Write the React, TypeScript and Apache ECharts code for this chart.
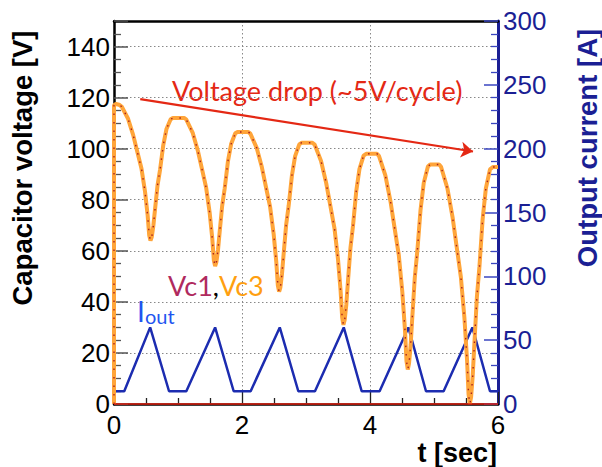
import React, { useEffect, useRef } from "react";
import * as echarts from "echarts";

// Capacitor voltage Vc3 [V] vs time [s]
const vc3: [number, number][] = [
  [0, 0], [0, 117], [0.03, 117.5], [0.08, 117.2], [0.12, 116.5], [0.22, 111.7], [0.3, 105.3], [0.365, 98.7],
  [0.43, 92.1], [0.485, 83.1], [0.526, 73.8], [0.55, 66.1], [0.57, 64], [0.59, 65.4], [0.615, 69.8],
  [0.64, 76], [0.68, 85.6], [0.72, 91.8], [0.77, 101.4], [0.82, 107.7], [0.885, 111.5], [0.92, 112],
  [1.1, 112], [1.13, 111.4], [1.23, 106.2], [1.31, 99.2], [1.375, 92], [1.44, 84.7], [1.495, 74.9],
  [1.536, 64.7], [1.56, 56.3], [1.58, 54], [1.6, 55.6], [1.625, 60.3], [1.65, 67.1], [1.69, 77.6],
  [1.73, 84.5], [1.78, 95], [1.83, 101.8], [1.895, 106], [1.93, 106.5], [2.1, 106.5], [2.13, 105.9],
  [2.23, 100.3], [2.31, 92.8], [2.375, 84.9], [2.44, 77.1], [2.495, 66.5], [2.536, 55.6], [2.56, 46.5],
  [2.58, 44], [2.6, 45.7], [2.625, 51], [2.65, 58.6], [2.69, 70.2], [2.73, 77.8], [2.78, 89.5],
  [2.83, 97.1], [2.895, 101.7], [2.93, 102.3], [3.1, 102.3], [3.135, 101.6], [3.235, 95.2], [3.315, 86.6],
  [3.38, 77.7], [3.445, 68.8], [3.5, 56.7], [3.541, 44.2], [3.565, 33.9], [3.585, 31], [3.605, 33],
  [3.63, 39], [3.655, 47.8], [3.695, 61.2], [3.735, 69.9], [3.785, 83.3], [3.835, 92], [3.9, 97.3],
  [3.94, 98], [4.11, 98], [4.14, 97.2], [4.24, 89.5], [4.32, 79.4], [4.385, 68.8], [4.45, 58.3],
  [4.505, 43.9], [4.546, 29.1], [4.57, 16.9], [4.59, 13.5], [4.61, 15.9], [4.635, 23.1], [4.66, 33.6],
  [4.7, 49.6], [4.74, 60.1], [4.79, 76.1], [4.84, 86.6], [4.905, 93], [4.94, 93.8], [5.08, 93.8],
  [5.11, 92.9], [5.21, 84.4], [5.29, 73.2], [5.355, 61.4], [5.42, 49.7], [5.475, 33.8], [5.516, 17.4],
  [5.54, 3.8], [5.56, 0], [5.58, 2.8], [5.605, 11.1], [5.63, 23.2], [5.67, 41.8], [5.71, 53.8],
  [5.76, 72.4], [5.81, 84.4], [5.875, 91.9], [5.92, 92.8], [6, 92.8],
];
// Vc1 lies on top of Vc3
const vc1: [number, number][] = vc3;

// Output current [A] vs time [s]
const iout: [number, number][] = [
  [0, 0], [0, 10], [0.16, 10], [0.565, 60], [0.86, 10], [1.13, 10], [1.58, 60], [1.87, 10],
  [2.135, 10], [2.59, 60], [2.88, 10], [3.14, 10], [3.59, 60], [3.87, 10], [4.15, 10], [4.6, 60],
  [4.875, 10], [5.15, 10], [5.6, 60], [5.875, 10], [6, 10],
];

// Voltage-drop arrow end points [t, V]
const arrowStart: [number, number] = [0.41, 119.4];
const arrowEnd: [number, number] = [5.61, 98.9];

const FONT = "'Liberation Sans', Arial, Helvetica, sans-serif";
const GILL = "Lato, 'Open Sans', sans-serif";
const NAVY = "#1b1f94";

export default function App() {
  const ref = useRef<HTMLDivElement>(null);
  useEffect(() => {
    if (!ref.current) return;
    const chart = echarts.init(ref.current, null, { renderer: "svg" });
    const grid = { left: 114, right: 104, top: 21, bottom: 63 };
    chart.setOption({
      animation: false,
      backgroundColor: "#ffffff",
      grid,
      xAxis: [
        {
          type: "value", min: 0, max: 6, interval: 2, position: "bottom",
          axisLine: { show: true, onZero: false, lineStyle: { color: "#000", width: 2.5 } },
          axisTick: { show: true, inside: true, length: 12, lineStyle: { color: "#222", width: 1.3 } },
          minorTick: { show: true, splitNumber: 4, length: 6, lineStyle: { color: "#222", width: 1.3 } },
          splitLine: { show: true, lineStyle: { color: "#888", width: 1, type: [1.5, 2.5] } },
          axisLabel: { fontSize: 26, color: "#000", fontFamily: FONT, margin: 8 },
        },
        {
          type: "value", min: 0, max: 6, position: "top",
          axisLine: { show: true, onZero: false, lineStyle: { color: "#000", width: 2.5 } },
          axisTick: { show: false }, minorTick: { show: false },
          axisLabel: { show: false }, splitLine: { show: false },
        },
      ],
      yAxis: [
        {
          type: "value", min: 0, max: 150, interval: 20, position: "left",
          axisLine: { show: true, onZero: false, lineStyle: { color: "#000", width: 2.5 } },
          axisTick: { show: true, inside: true, length: 14, lineStyle: { color: "#555", width: 1.5 } },
          minorTick: { show: true, splitNumber: 4, length: 7, lineStyle: { color: "#555", width: 1.3 } },
          splitLine: { show: true, lineStyle: { color: "#888", width: 1, type: [1.5, 2.5] } },
          axisLabel: {
            fontSize: 26, color: "#000", fontFamily: FONT, margin: 4,
            formatter: (v: number) => (v === 150 ? "" : String(v)),
          },
        },
        {
          type: "value", min: 0, max: 300, interval: 50, position: "right",
          axisLine: { show: true, onZero: false, lineStyle: { color: NAVY, width: 3 } },
          axisTick: { show: true, inside: true, length: 14, lineStyle: { color: "#3a46c0", width: 1.5 } },
          minorTick: { show: true, splitNumber: 5, length: 7, lineStyle: { color: "#3a46c0", width: 1.3 } },
          splitLine: { show: false },
          axisLabel: { fontSize: 26, color: NAVY, fontFamily: FONT, margin: 5 },
        },
      ],
      series: [
        {
          name: "Iout", type: "line", xAxisIndex: 0, yAxisIndex: 1, data: iout, showSymbol: false, symbol: "none",
          lineStyle: { color: "#1c2cb0", width: 2.5 }, z: 2,
        },
        {
          name: "Vc3", type: "line", xAxisIndex: 0, yAxisIndex: 0, data: vc3, showSymbol: false, symbol: "none",
          lineStyle: { color: "#ffa53a", width: 4 }, z: 3,
        },
        {
          name: "Vc1", type: "line", xAxisIndex: 0, yAxisIndex: 0, data: vc1, showSymbol: false, symbol: "none",
          lineStyle: { color: "#a82020", width: 1.4, type: [1.5, 7] }, z: 4,
          markLine: {
            silent: true, animation: false, symbol: ["none", "none"], label: { show: false },
            lineStyle: { color: "#e02010", width: 1.5, type: "solid" },
            data: [{ yAxis: 0 }],
          },
        },
        {
          name: "arrow", type: "line", xAxisIndex: 0, yAxisIndex: 0, data: [], z: 5,
          markLine: {
            silent: true, animation: false, symbol: ["none", "arrow"], symbolSize: 12,
            label: { show: false },
            lineStyle: { color: "#e42814", width: 2.2, type: "solid" },
            data: [[{ coord: arrowStart }, { coord: arrowEnd }]],
          },
        },
      ],
      graphic: [
        {
          type: "text", x: 22, y: 168, rotation: Math.PI / 2,
          style: {
            text: "Capacitor voltage [V]", fill: "#000", font: `bold 27.5px ${FONT}`,
            align: "center", verticalAlign: "middle",
          },
        },
        {
          type: "text", x: 587, y: 148, rotation: Math.PI / 2,
          style: {
            text: "Output current [A]", fill: NAVY, font: `bold 27.5px ${FONT}`,
            align: "center", verticalAlign: "middle",
          },
        },
        {
          type: "text", x: 497, y: 453,
          style: { text: "t [sec]", fill: "#000", font: `bold 27px ${FONT}`, align: "right", verticalAlign: "middle" },
        },
        {
          type: "text", x: 172, y: 90,
          style: { text: "Voltage drop (~5V/cycle)", fill: "#e42814", font: `27px ${GILL}`, align: "left", verticalAlign: "middle" },
        },
        {
          type: "text", x: 168, y: 285,
          style: {
            text: "{a|Vc1}{b|,}{c|Vc3}", align: "left", verticalAlign: "middle",
            rich: {
              a: { fill: "#b02a5e", font: `27px ${GILL}` },
              b: { fill: "#000", font: `27px ${GILL}` },
              c: { fill: "#ff9f10", font: `27px ${GILL}` },
            },
          },
        },
        {
          type: "text", x: 137, y: 311,
          style: { text: "I", fill: "#1f55f0", font: `28px ${GILL}`, align: "left", verticalAlign: "middle" },
        },
        {
          type: "text", x: 145, y: 316,
          style: { text: "out", fill: "#1f55f0", font: `20px ${GILL}`, align: "left", verticalAlign: "middle" },
        },
      ],
    });
    return () => chart.dispose();
  }, []);
  return <div ref={ref} style={{ position: "fixed", left: 0, top: 0, width: 602, height: 467 }} />;
}
